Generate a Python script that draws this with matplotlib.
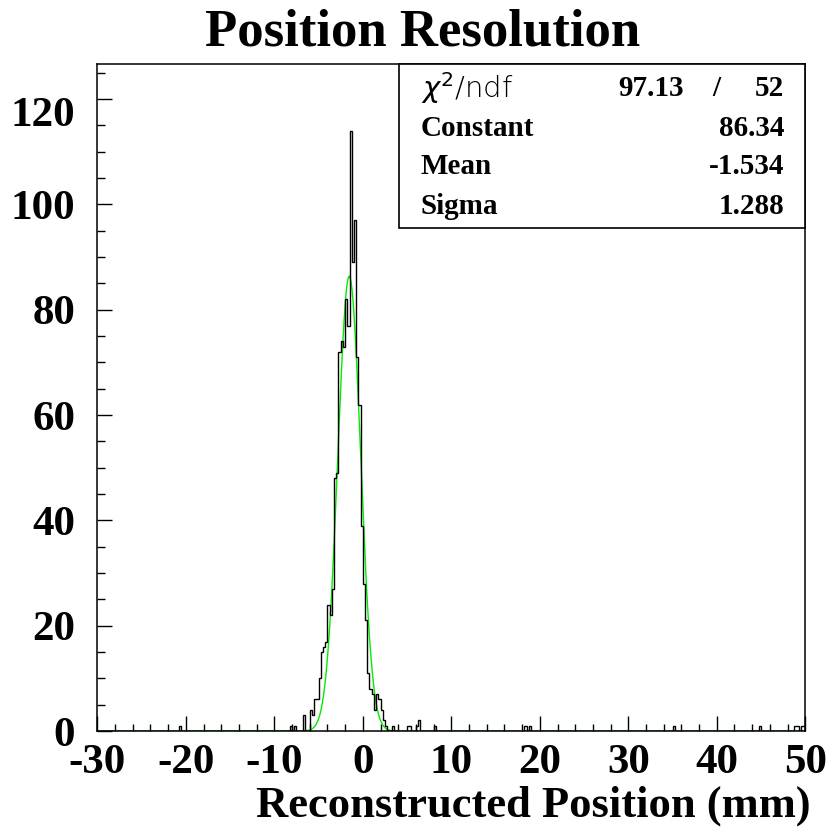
import numpy as np
import matplotlib.pyplot as plt
from matplotlib.patches import Rectangle
from matplotlib.ticker import MultipleLocator
import matplotlib.transforms as mtransforms

plt.rcParams['axes.unicode_minus'] = False

# histogram binning: 320 bins of 0.25 mm between -30 and 50
x_lo, x_hi, bin_w = -30.0, 50.0, 0.25

# contiguous counts around the peak, first bin starts at -7.0 mm
peak_start = -7.0
peak_counts = [0, 3, 0, 0, 4, 3, 6, 6, 10, 15, 16, 17, 24, 22, 27,
               48, 49, 72, 74, 73, 82, 77, 114, 89, 97, 71, 62, 39,
               28, 21, 11, 8, 7, 4, 7, 6, 4, 2, 1]

# isolated single entries (bin low edge, count)
stray_edges = [-20.75, -8.25, -7.75, 3.25, 5.0, 5.25, 6.0, 6.25, 8.0,
               18.25, 18.75, 35.0, 44.75, 48.75, 49.0, 49.5, 49.75]
stray_counts = [1, 1, 1, 1, 1, 1, 1, 2, 1, 1, 1, 1, 1, 1, 1, 1, 1]

# gaussian fit result
fit_const, fit_mean, fit_sigma = 86.34, -1.534, 1.288
chi2, ndf = 97.13, 52

edges = np.arange(x_lo, x_hi + bin_w / 2, bin_w)
counts = np.zeros(len(edges) - 1)
i0 = int(round((peak_start - x_lo) / bin_w))
counts[i0:i0 + len(peak_counts)] = peak_counts
for e, c in zip(stray_edges, stray_counts):
    counts[int(round((e - x_lo) / bin_w))] += c

serif = 'Liberation Serif'

fig = plt.figure(figsize=(8.29, 8.31), dpi=100)
ax = fig.add_axes([0.1174, 0.1203, 0.8540, 0.8023])

ax.stairs(counts, edges, color='black', lw=1.0, zorder=3)

xs = np.linspace(x_lo, x_hi, 3000)
ax.plot(xs, fit_const * np.exp(-0.5 * ((xs - fit_mean) / fit_sigma) ** 2),
        color='#00ee00', lw=1.0, zorder=2)

ax.set_xlim(x_lo, x_hi)
ax.set_ylim(0, 126.6)
ax.xaxis.set_major_locator(MultipleLocator(10))
ax.xaxis.set_minor_locator(MultipleLocator(2))
ax.yaxis.set_major_locator(MultipleLocator(20))
ax.yaxis.set_minor_locator(MultipleLocator(5))
ax.tick_params(which='both', direction='in', top=False, right=False,
               width=1.0, colors='black')
ax.tick_params(which='major', length=10.8)
ax.tick_params(which='minor', length=5.4)
ax.tick_params(axis='x', pad=9)
ax.tick_params(axis='y', pad=16)
fig.canvas.draw()
for lab in ax.get_xticklabels() + ax.get_yticklabels():
    lab.set_fontfamily(serif)
    lab.set_fontweight('bold')
    lab.set_fontsize(31)
# the top label sits a little lower than its tick
for lab in ax.get_yticklabels():
    if lab.get_text() == '120':
        lab.set_transform(lab.get_transform() +
                          mtransforms.ScaledTranslation(0, -0.12, fig.dpi_scale_trans))
for sp in ax.spines.values():
    sp.set_linewidth(1.1)

fig.text(0.510, 1 - 33 / 831, 'Position Resolution', ha='center', va='center',
         family=serif, weight='bold', fontsize=38)
fig.text(811 / 829, 1 - 806 / 831, 'Reconstructed Position (mm)', ha='right',
         va='center', family=serif, weight='bold', fontsize=32)

# fit statistics box
box_l, box_r, box_t, box_b = 399, 805, 64.3, 228
fig.patches.append(Rectangle((box_l / 829, 1 - box_b / 831),
                             (box_r - box_l) / 829, (box_b - box_t) / 831,
                             transform=fig.transFigure, fill=True,
                             facecolor='white', edgecolor='black', lw=1.2,
                             zorder=5))
rows_y = [88, 128, 167, 206]
lx, rx = 421 / 829, 784 / 829
fig.text(lx, 1 - rows_y[0] / 831, r'$\chi^{2}$/ndf', ha='left', va='center',
         family='DejaVu Sans', weight='light', fontsize=21, zorder=6)
fig.text(684 / 829, 1 - rows_y[0] / 831, f'{chi2:.2f}', ha='right', va='center',
         family=serif, weight='bold', fontsize=21, zorder=6)
fig.text(716 / 829, 1 - rows_y[0] / 831, '/', ha='center', va='center',
         family=serif, weight='bold', fontsize=21, zorder=6)
fig.text(rx, 1 - rows_y[0] / 831, f'{ndf}', ha='right', va='center',
         family=serif, weight='bold', fontsize=21, zorder=6)
stats = [('Constant', f'{fit_const:.2f}'), ('Mean', f'{fit_mean:.3f}'),
         ('Sigma', f'{fit_sigma:.3f}')]
for (name, val), yy in zip(stats, rows_y[1:]):
    fig.text(lx, 1 - yy / 831, name, ha='left', va='center', family=serif,
             weight='bold', fontsize=21, zorder=6)
    fig.text(rx, 1 - yy / 831, val, ha='right', va='center', family=serif,
             weight='bold', fontsize=21, zorder=6)

fig.savefig('out.png', dpi=100)
